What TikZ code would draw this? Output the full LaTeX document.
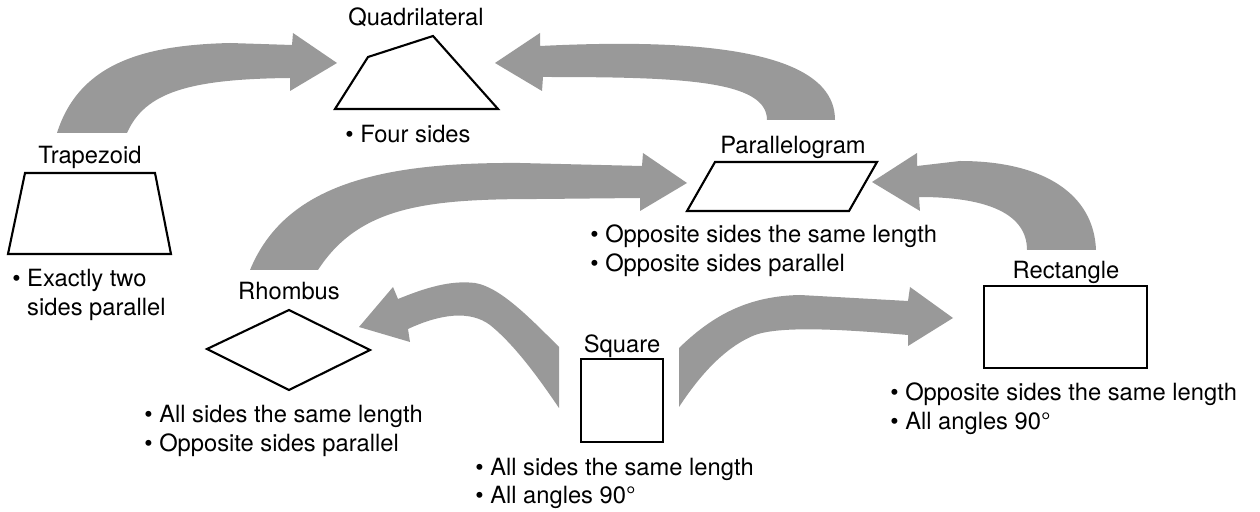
\documentclass[tikz,border=0pt]{standalone}
\usepackage{fontspec}
\setmainfont{TeX Gyre Heros}
\definecolor{arrowgray}{RGB}{153,153,153}

% bullet list whose baseline is its first line
\newcommand{\factlist}[1]{\begin{tabular}[t]{@{}l@{}}#1\end{tabular}}

\begin{document}
\begin{tikzpicture}[x=0.2mm, y=-0.2mm,
  shapeline/.style={draw=black, line width=1.2pt},
  blockarrow/.style={fill=arrowgray},
  caption/.style={font=\fontsize{13.5}{16.5}\selectfont, inner sep=0pt, anchor=base},
  facts/.style={caption, anchor=base west}]
\useasboundingbox (0,0) rectangle (1260,512);

% Block arrows
\fill[blockarrow] (57,133) .. controls (80,60) and (150,45) .. (230,43) -- (292,45) -- (293,33) -- (337,63) -- (290,91) -- (290,78)
  .. controls (190,79) and (145,92) .. (127,133) -- cycle;
\fill[blockarrow] (835,120) .. controls (835,50) and (700,38) .. (540,46) -- (540,33) -- (495,63) -- (542,91) -- (543,77)
  .. controls (680,77) and (767,80) .. (767,120) -- cycle;
\fill[blockarrow] (250,270) .. controls (285,185) and (380,162) .. (520,163) -- (642,166) -- (643,153) -- (687,183) -- (640,211) -- (640,198)
  -- (540,199) .. controls (430,199) and (360,205) .. (318,270) -- cycle;
\fill[blockarrow] (1096,250) .. controls (1094,195) and (1045,161) .. (960,161) -- (917,166) -- (917,153) -- (872,182) -- (920,211) -- (919,197)
  .. controls (990,197) and (1027,215) .. (1027,250) -- cycle;
\fill[blockarrow] (679,348) .. controls (710,318) and (745,296) .. (800,295) -- (908,301) -- (910,287) -- (953,318) -- (908,346) -- (908,335)
  .. controls (840,329) and (780,326) .. (755,335) .. controls (725,347) and (700,375) .. (679,407) -- cycle;
\fill[blockarrow] (559,408) .. controls (540,380) and (515,345) .. (490,325) .. controls (470,310) and (440,314) .. (408,329) -- (410,342) -- (359,327)
  -- (393,287) -- (398,299) .. controls (425,288) and (450,280) .. (475,283) .. controls (500,287) and (530,318) .. (559,347) -- cycle;

% Shapes
\draw[shapeline] (335,109) -- (368,57) -- (433,36) -- (498,109) -- cycle;
\draw[shapeline] (25,173) -- (155,173) -- (171,254) -- (8,254) -- cycle;
\draw[shapeline] (289,310) -- (370,350) -- (289,390) -- (207,349) -- cycle;
\draw[shapeline] (581,359) rectangle (663,442);
\draw[shapeline] (715,162) -- (877,162) -- (849,211) -- (687,211) -- cycle;
\draw[shapeline] (984,286) rectangle (1147,368);

% Names
\node[caption] (quadname) at (416,26) {Quadrilateral};
\node[caption] (trapname) at (90,164) {Trapezoid};
\node[caption] (rhombname) at (289,300) {Rhombus};
\node[caption] (squarename) at (622,353) {Square};
\node[caption] (paraname) at (793,154) {Parallelogram};
\node[caption] (rectname) at (1066,279) {Rectangle};

% Properties
\node[facts] (quadfacts) at (345,143) {\textbullet\ Four sides};
\node[facts] (trapfacts) at (12,287) {\factlist{\textbullet\ Exactly two\\\phantom{\textbullet\ }sides parallel}};
\node[facts] (rhombfacts) at (144,423) {\factlist{\textbullet\ All sides the same length\\\textbullet\ Opposite sides parallel}};
\node[facts] (squarefacts) at (475,475) {\factlist{\textbullet\ All sides the same length\\\textbullet\ All angles 90°}};
\node[facts] (parafacts) at (590,243) {\factlist{\textbullet\ Opposite sides the same length\\\textbullet\ Opposite sides parallel}};
\node[facts] (rectfacts) at (890,401) {\factlist{\textbullet\ Opposite sides the same length\\\textbullet\ All angles 90°}};
\end{tikzpicture}
\end{document}
